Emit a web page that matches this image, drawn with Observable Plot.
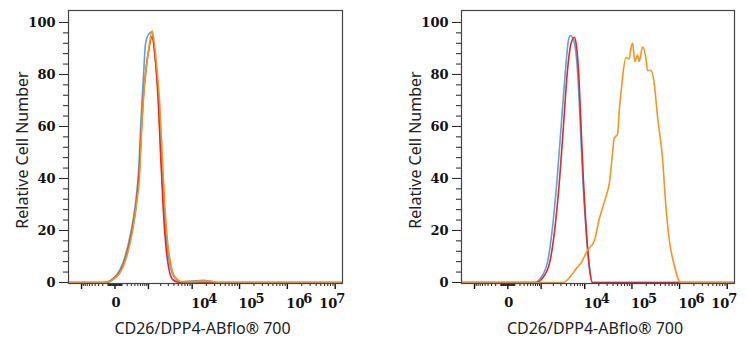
<!DOCTYPE html>
<html><head><meta charset="utf-8">
<script src="https://cdn.jsdelivr.net/npm/d3@7"></script>
<script src="https://cdn.jsdelivr.net/npm/@observablehq/plot@0.6"></script>
<style>
body{margin:0;background:#fff;}
#wrap{display:flex;width:747px;height:350px;overflow:hidden;}
</style></head><body><div id="wrap"></div>
<script>
// ---- Left panel (negative cells) ----
const leftBlankX = [-2100, -179, 28, 132, 277, 420, 536, 603, 676, 750, 835, 1022, 1198, 1506, 1808, 2059, 2368, 2833, 3363, 4345, 5595, 9210, 17690, 24520, 33940, 1.5e7];
const leftBlankY = [0, 0, 3.3, 8.5, 18.7, 30.3, 44.3, 58.5, 71.3, 81.5, 91.8, 95.6, 96.3, 85.4, 68.7, 49.5, 30.3, 13.6, 5.9, 1.4, 0.3, 0.5, 0.8, 0.5, 0, 0];
const leftIsoX = [-2100, -164, 39, 155, 303, 444, 563, 637, 726, 862, 1034, 1219, 1464, 1749, 1983, 2268, 2660, 3112, 3728, 4810, 7188, 1.5e7];
const leftIsoY = [0, 0, 3, 8.5, 18.7, 30, 44, 58, 71, 82, 90, 94.5, 87, 70, 50, 30, 13.6, 5, 1.2, 0.2, 0, 0];
const leftStainX = [-2100, -164, 46, 164, 317, 454, 583, 645, 735, 835, 1003, 1248, 1383, 1592, 1909, 2172, 2498, 2985, 3540, 4573, 5883, 9210, 15060, 24520, 36150, 1.5e7];
const leftStainY = [0, 0, 3, 8.5, 18.7, 30, 44, 58, 71, 80, 89, 96.8, 93, 84, 68, 49.5, 30, 13.6, 5.9, 1.4, 0.3, 0.2, 0.4, 0.4, 0, 0];

// ---- Right panel (positive cells) ----
const rightBlankX = [-2100, 658, 1003, 1480, 1878, 2457, 3032, 3728, 4412, 4883, 5797, 7077, 8055, 9075, 10680, 12560, 14835, 1.5e7];
const rightBlankY = [0, 0, 2, 8.5, 20, 40, 60, 80, 93, 95, 93, 80, 60, 40, 20, 6, 0, 0];
const rightIsoX = [-2100, 735, 1130, 1683, 2150, 2803, 3415, 4131, 5060, 5975, 6503, 7440, 8340, 9350, 10840, 12560, 14330, 1.5e7];
const rightIsoY = [0, 0, 2, 8.5, 20, 40, 60, 80, 92, 94.3, 92, 80, 60, 40, 20, 6, 0, 0];
const rightStainX = [-2100, 3310, 7077, 8340, 11610, 16050, 20490, 28370, 33290, 39270, 42420, 49970, 54000, 58650, 63670, 74720, 87600, 95100, 103200, 115400, 131450, 142000, 167100, 195900, 212650, 249300, 292000, 344000, 438000, 513500, 601500, 766000, 1056000, 1.5e7];
const rightStainY = [0, 0, 6, 7.5, 12.5, 16, 24.5, 33, 38, 50, 55.5, 57, 66, 72.6, 79, 86.5, 86, 90, 92, 85, 87.5, 85, 90.5, 86.5, 81.5, 81.5, 77, 64, 48, 30, 17, 7, 0, 0];

// ---- Axes ----
const xMajorTicks = [-1000, 0, 1000, 1e4, 1e5, 1e6, 1e7];
const xMinorTicks = [-900,-800,-700,-600,-500,-400,-300,-200,-100,-90,-80,-70,-60,-50,-40,-30,-20,-10,
  10,20,30,40,50,60,70,80,90,100,200,300,400,500,600,700,800,900,
  2000,3000,4000,5000,6000,7000,8000,9000,
  2e4,3e4,4e4,5e4,6e4,7e4,8e4,9e4,
  2e5,3e5,4e5,5e5,6e5,7e5,8e5,9e5,
  2e6,3e6,4e6,5e6,6e6,7e6,8e6,9e6];
const xZeroLabel = [0];
const xPowTicks = [1e4, 1e5, 1e6];
const xPowExp = ["4", "5", "6"];
const xLastTick = [1e7];
const xLastExp = ["7"];
const yMajorTicks = [0, 20, 40, 60, 80, 100];
const yMinorTicks = [4, 8, 12, 16, 24, 28, 32, 36, 44, 48, 52, 56, 64, 68, 72, 76, 84, 88, 92, 96];
const xTitle = "CD26/DPP4-ABflo® 700";
const yTitle = "Relative Cell Number";

const colors = {blank: "#52a7dc", iso: "#e8262b", stain: "#f7951f"};
const serif = "DejaVu Serif";
const sans = "Noto Sans";
const tickFont = {fontFamily: serif, fontWeight: "bold", fontSize: 13, fill: "#111"};

function panel(series, ml, mr, w) {
  const lines = series.map(([xs, ys, c]) =>
    Plot.line(d3.zip(xs, ys), {x: d => d[0], y: d => d[1], stroke: c, strokeWidth: 1.6, curve: "monotone-x", clip: true}));
  return Plot.plot({
    width: w, height: 350,
    marginLeft: ml, marginRight: mr, marginTop: 10, marginBottom: 67,
    x: {type: "symlog", constant: 250, domain: [-2093, 1.421e7], axis: null},
    y: {domain: [-0.4, 104.6], axis: null},
    style: {background: "#fff", overflow: "visible"},
    marks: [
      Plot.axisY(yMinorTicks, {anchor: "left", tickSize: 5, tickFormat: () => "", stroke: "#222", label: null}),
      Plot.axisY(yMajorTicks, {anchor: "left", tickSize: 9, tickFormat: () => "", stroke: "#222", label: null}),
      Plot.text(yMajorTicks, {y: d => d, text: d => String(d), frameAnchor: "left", textAnchor: "end", dx: -13, ...tickFont}),
      Plot.axisX(xMinorTicks, {anchor: "bottom", tickSize: 3, tickFormat: () => "", stroke: "#222", label: null}),
      Plot.axisX(xMajorTicks, {anchor: "bottom", tickSize: 6, strokeWidth: 1.4, tickFormat: () => "", stroke: "#111", label: null}),
      Plot.text(xZeroLabel, {x: d => d, text: d => String(d), frameAnchor: "bottom", dy: 23, dx: 1, ...tickFont}),
      Plot.text(xPowTicks, {x: d => d, text: () => "10", frameAnchor: "bottom", dy: 24, dx: -1, textAnchor: "start", ...tickFont}),
      Plot.text(xPowTicks, {x: d => d, text: (d, i) => xPowExp[i], frameAnchor: "bottom", dy: 19, dx: 16, textAnchor: "start", ...tickFont}),
      Plot.text(xLastTick, {x: d => d, text: () => "10", frameAnchor: "bottom", dy: 24, dx: -16, textAnchor: "start", ...tickFont}),
      Plot.text(xLastTick, {x: d => d, text: (d, i) => xLastExp[i], frameAnchor: "bottom", dy: 19, dx: 1, textAnchor: "start", ...tickFont}),
      Plot.text([xTitle], {text: d => d, frameAnchor: "bottom", dy: 50, dx: -3, lineAnchor: "bottom",
        fontFamily: sans, fontSize: 16, fill: "#222"}),
      Plot.text([yTitle], {text: d => d, frameAnchor: "left", rotate: -90, textAnchor: "middle", lineAnchor: "bottom",
        dx: -41, dy: 3, fontFamily: sans, fontSize: 16, fill: "#222"}),
      ...lines,
      Plot.frame({stroke: "#444", strokeWidth: 1.2})
    ]
  });
}

const wrap = document.getElementById("wrap");
wrap.appendChild(panel([
  [leftBlankX, leftBlankY, colors.blank],
  [leftIsoX, leftIsoY, colors.iso],
  [leftStainX, leftStainY, colors.stain]
], 68, 31, 373));
wrap.appendChild(panel([
  [rightBlankX, rightBlankY, colors.blank],
  [rightIsoX, rightIsoY, colors.iso],
  [rightStainX, rightStainY, colors.stain]
], 88, 13, 374));
</script></body></html>
